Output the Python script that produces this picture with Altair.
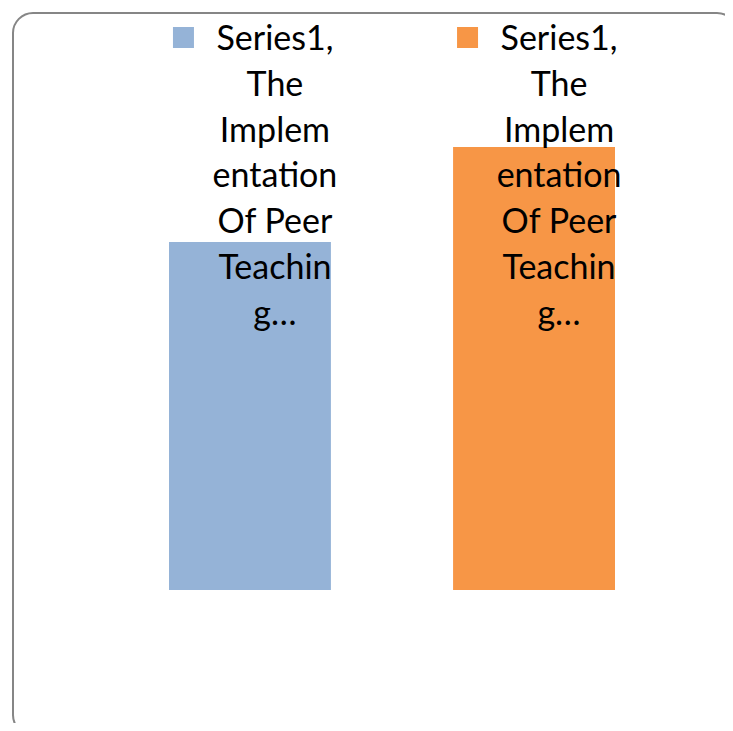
import altair as alt
import pandas as pd

categories = ["Peer Teaching A", "Peer Teaching B"]
values = [44, 56]
label_lines = ["Series1,", "The", "Implem", "entation", "Of Peer", "Teachin", "g…"]
colors = ["#95B3D7", "#F79646"]

df = pd.DataFrame({
    "category": categories,
    "value": values,
    "label": ["\n".join(label_lines)] * len(categories),
})

xenc = alt.X("category:N", sort=categories, axis=None,
             scale=alt.Scale(range=[161, 607], paddingInner=0.43, paddingOuter=0))
yenc = alt.Y("value:Q", axis=None, scale=alt.Scale(domain=[0, 60], range=[582, 107.4]))
cenc = alt.Color("category:N", legend=None, scale=alt.Scale(domain=categories, range=colors))

base = alt.Chart(df)

border = alt.Chart(pd.DataFrame({"a": [0]})).mark_rect(
    fillOpacity=0, stroke="#868686", strokeWidth=2, cornerRadius=20
).encode(x=alt.value(5), x2=alt.value(729), y=alt.value(5), y2=alt.value(727))

bars = base.mark_bar().encode(x=xenc, y=yenc, color=cenc)

markers = base.mark_square(size=441, opacity=1, xOffset=-66.5).encode(
    x=xenc, y=alt.value(29.5), color=cenc)

labels = base.mark_text(
    lineBreak="\n", font="Lato", fontSize=34, lineHeight=45.8,
    baseline="alphabetic", align="center", dx=25, color="black"
).encode(x=xenc, y=alt.value(42), text="label:N")

chart = alt.layer(border, bars, markers, labels).properties(
    width=717, height=715, padding=0, autosize="none", background="white"
).configure_view(stroke=None)

chart.save("out.html", embed_options={"renderer": "svg", "actions": False})
